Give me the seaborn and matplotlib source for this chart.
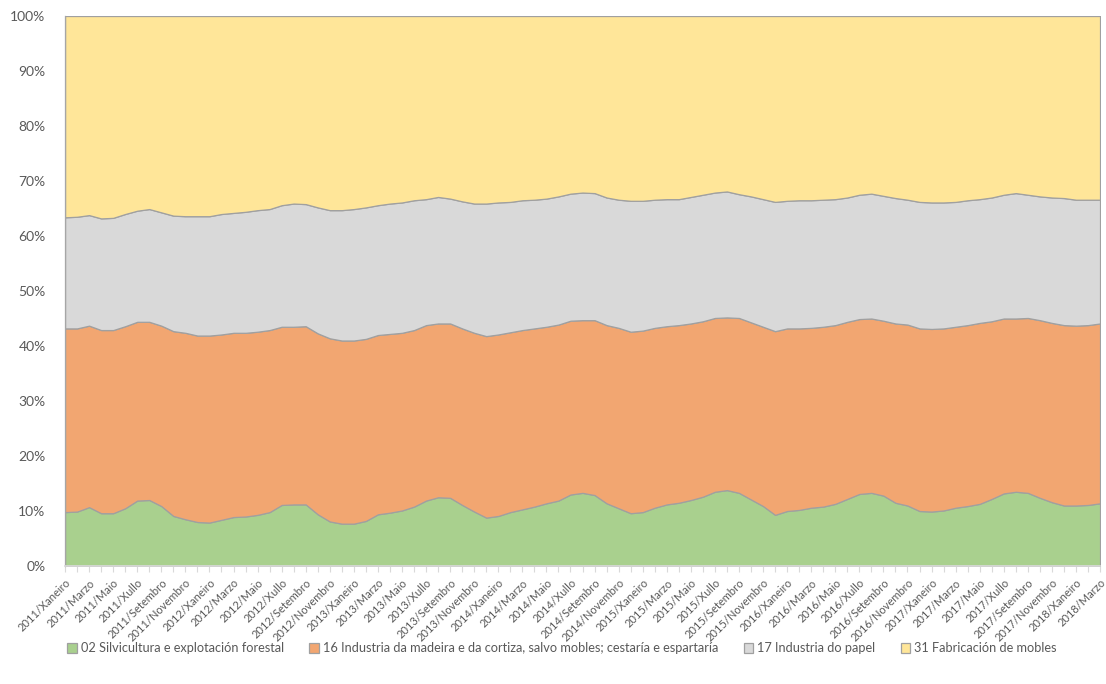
import numpy as np
import pandas as pd
import matplotlib
matplotlib.use("Agg")
import matplotlib.pyplot as plt
from matplotlib.ticker import PercentFormatter
import seaborn as sns

# periods: monthly, 2011/Xaneiro .. 2018/Marzo
years = [2011, 2012, 2013, 2014, 2015, 2016, 2017, 2018]
month_names = ["Xaneiro", "Febreiro", "Marzo", "Abril", "Maio", "Xuño",
               "Xullo", "Agosto", "Setembro", "Outubro", "Novembro", "Decembro"]
periods = [f"{y}/{m}" for y in years for m in month_names][:87]

# shares (%)
silvicultura = [9.8, 9.9, 10.7, 9.6, 9.6, 10.5, 11.9, 12.0, 10.9, 9.1, 8.5, 8.0,
                7.9, 8.4, 8.9, 9.0, 9.3, 9.8, 11.1, 11.2, 11.2, 9.4, 8.1, 7.7,
                7.7, 8.2, 9.4, 9.7, 10.1, 10.8, 11.9, 12.5, 12.4, 11.1, 9.9, 8.8,
                9.1, 9.8, 10.3, 10.8, 11.4, 11.9, 13.0, 13.3, 12.9, 11.4, 10.5, 9.6,
                9.8, 10.6, 11.2, 11.5, 12.0, 12.6, 13.5, 13.8, 13.3, 12.1, 10.9, 9.3,
                10.0, 10.2, 10.6, 10.8, 11.3, 12.2, 13.1, 13.3, 12.8, 11.5, 11.0, 10.0,
                9.9, 10.1, 10.6, 10.9, 11.3, 12.2, 13.2, 13.5, 13.3, 12.4, 11.6, 11.0,
                11.0, 11.1, 11.4]
madeira = [33.4, 33.3, 33.0, 33.3, 33.3, 33.1, 32.5, 32.4, 32.8, 33.6, 33.9, 33.9,
           34.0, 33.7, 33.5, 33.4, 33.3, 33.1, 32.4, 32.3, 32.4, 32.9, 33.3, 33.3,
           33.3, 33.1, 32.6, 32.5, 32.3, 32.1, 31.9, 31.6, 31.7, 32.1, 32.5, 33.0,
           33.0, 32.7, 32.6, 32.4, 32.1, 32.0, 31.6, 31.4, 31.8, 32.4, 32.8, 33.0,
           33.0, 32.7, 32.4, 32.3, 32.1, 31.9, 31.6, 31.4, 31.8, 32.2, 32.6, 33.4,
           33.2, 33.0, 32.7, 32.7, 32.5, 32.2, 31.8, 31.7, 31.8, 32.6, 32.9, 33.2,
           33.2, 33.1, 32.9, 32.9, 32.9, 32.3, 31.8, 31.5, 31.8, 32.3, 32.6, 32.8,
           32.7, 32.7, 32.7]
papel = [20.2, 20.3, 20.1, 20.3, 20.4, 20.4, 20.2, 20.5, 20.6, 21.0, 21.2, 21.7,
         21.7, 21.9, 21.8, 22.0, 22.1, 22.0, 22.1, 22.4, 22.2, 22.9, 23.3, 23.7,
         23.9, 23.9, 23.6, 23.7, 23.7, 23.6, 22.9, 23.0, 22.7, 23.1, 23.5, 24.1,
         24.0, 23.7, 23.6, 23.4, 23.3, 23.3, 23.1, 23.2, 23.1, 23.2, 23.3, 23.8,
         23.6, 23.3, 23.1, 22.9, 23.0, 23.0, 22.8, 22.9, 22.5, 22.9, 23.2, 23.5,
         23.2, 23.3, 23.2, 23.1, 22.9, 22.6, 22.6, 22.7, 22.7, 22.8, 22.7, 23.0,
         23.0, 22.9, 22.7, 22.7, 22.5, 22.5, 22.5, 22.8, 22.4, 22.5, 22.8, 23.1,
         22.9, 22.8, 22.5]
mobles = [36.6, 36.5, 36.2, 36.8, 36.7, 36.0, 35.4, 35.1, 35.7, 36.3, 36.4, 36.4,
          36.4, 36.0, 35.8, 35.6, 35.3, 35.1, 34.4, 34.1, 34.2, 34.8, 35.3, 35.3,
          35.1, 34.8, 34.4, 34.1, 33.9, 33.5, 33.3, 32.9, 33.2, 33.7, 34.1, 34.1,
          33.9, 33.8, 33.5, 33.4, 33.2, 32.8, 32.3, 32.1, 32.2, 33.0, 33.4, 33.6,
          33.6, 33.4, 33.3, 33.3, 32.9, 32.5, 32.1, 31.9, 32.4, 32.8, 33.3, 33.8,
          33.6, 33.5, 33.5, 33.4, 33.3, 33.0, 32.5, 32.3, 32.7, 33.1, 33.4, 33.8,
          33.9, 33.9, 33.8, 33.5, 33.3, 33.0, 32.5, 32.2, 32.5, 32.8, 33.0, 33.1,
          33.4, 33.4, 33.4]

series_names = ["02 Silvicultura e explotación forestal",
                "16 Industria da madeira e da cortiza, salvo mobles; cestaría e espartaría",
                "17 Industria do papel",
                "31 Fabricación de mobles"]
colors = ["#a9d08e", "#f2a671", "#d9d9d9", "#ffe699"]

df = pd.DataFrame(dict(zip(series_names, [silvicultura, madeira, papel, mobles])),
                  index=periods)
shares = df.div(df.sum(axis=1), axis=0) * 100

sns.set_theme(style="white")
plt.rcParams["font.family"] = ["Lato", "DejaVu Sans"]

fig, ax = plt.subplots(figsize=(11.06, 6.84), dpi=100)
fig.subplots_adjust(left=0.0588, right=0.9946, top=0.9766, bottom=0.1725)

x = np.arange(len(periods))
ax.stackplot(x, shares.T.values, colors=colors, labels=series_names,
             edgecolor="#a0a0a0", linewidth=0.9)

ax.set_xlim(0, len(periods) - 1)
ax.set_ylim(0, 100)
ax.set_yticks(np.arange(0, 101, 10))
ax.yaxis.set_major_formatter(PercentFormatter(100, decimals=0))
ax.set_xticks(x)
ax.set_xticklabels([p if i % 2 == 0 else "" for i, p in enumerate(periods)],
                   rotation=45, ha="right", rotation_mode="anchor")
ax.tick_params(axis="x", bottom=True, length=4, width=0.8, color="#d9d9d9",
               labelsize=8.0, labelcolor="#595959", pad=4)
ax.tick_params(axis="y", left=False, labelsize=10, labelcolor="#595959", pad=8)

sns.despine(ax=ax, top=True, right=True)
ax.spines["left"].set_color("#a6a6a6")
ax.spines["left"].set_linewidth(0.9)
ax.spines["bottom"].set_color("#d9d9d9")
ax.grid(False)

handles, labels = ax.get_legend_handles_labels()
fig.legend(handles, labels, loc="center", bbox_to_anchor=(0.508, 0.052),
           ncol=4, frameon=False, fontsize=9.2, labelcolor="#595959",
           handlelength=0.75, handleheight=0.75, handletextpad=0.3,
           columnspacing=2.0)

fig.savefig("out.png", dpi=100)
